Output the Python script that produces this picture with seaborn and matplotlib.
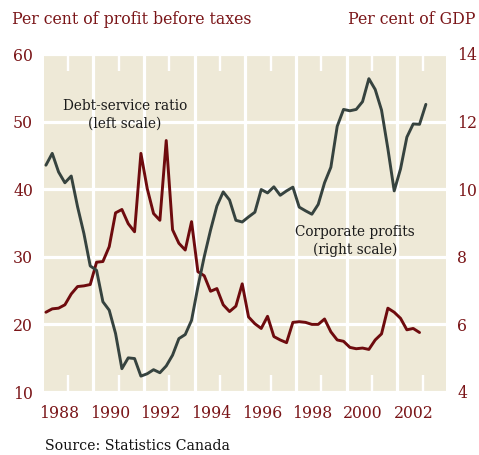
import numpy as np
import pandas as pd
import matplotlib
matplotlib.use("Agg")
import matplotlib.pyplot as plt
import matplotlib.transforms as mtransforms
import seaborn as sns

# Quarterly observations, 1987Q1 onwards
debt_service = [21.8, 22.3, 22.4, 22.9, 24.5, 25.6, 25.7, 25.9, 29.2, 29.3,
                31.5, 36.5, 37.0, 34.9, 33.7, 45.3, 40.1, 36.4, 35.4, 47.2,
                34.0, 32.0, 31.0, 35.2, 27.8, 27.2, 24.9, 25.3, 22.9, 21.9,
                22.7, 26.0, 21.1, 20.1, 19.4, 21.2, 18.2, 17.7, 17.3, 20.3,
                20.4, 20.3, 20.0, 20.0, 20.8, 18.9, 17.7, 17.5, 16.6, 16.4,
                16.5, 16.3, 17.7, 18.6, 22.4, 21.8, 20.9, 19.2, 19.4, 18.8]
corp_profits = [10.71, 11.06, 10.51, 10.19, 10.39, 9.48, 8.69, 7.73, 7.60, 6.67,
                6.42, 5.73, 4.69, 5.01, 4.99, 4.47, 4.54, 4.66, 4.57, 4.77,
                5.09, 5.58, 5.70, 6.12, 7.11, 8.00, 8.79, 9.50, 9.92, 9.68,
                9.08, 9.03, 9.18, 9.32, 9.99, 9.89, 10.07, 9.82, 9.95, 10.06,
                9.47, 9.36, 9.26, 9.55, 10.19, 10.65, 11.86, 12.36, 12.32, 12.36,
                12.59, 13.27, 12.95, 12.34, 11.20, 9.95, 10.60, 11.54, 11.93, 11.92,
                12.51]
year_labels = [1988, 1990, 1992, 1994, 1996, 1998, 2000, 2002]
left_ticks = [10, 20, 30, 40, 50, 60]
right_ticks = [4, 6, 8, 10, 12, 14]


def quarter_positions(n):
    q = pd.period_range("1987Q1", periods=n, freq="Q")
    return q.year + (q.quarter - 0.5) / 4.0


dsr = pd.DataFrame({"t": quarter_positions(len(debt_service)), "v": debt_service})
cp = pd.DataFrame({"t": quarter_positions(len(corp_profits)), "v": corp_profits})

MAROON = "#6E0B0E"
SLATE = "#36433F"
LABEL_RED = "#7A1518"
PANEL = "#EEE9D7"

sns.set_style("white")
plt.rcParams["font.family"] = ["DejaVu Serif"]

fig = plt.figure(figsize=(4.79, 4.55), dpi=100)
ax = fig.add_axes([44 / 479, 1 - 392 / 455, 402 / 479, 338 / 455])
ax.set_facecolor(PANEL)
ax2 = ax.twinx()

sns.lineplot(data=dsr, x="t", y="v", ax=ax, color=MAROON, lw=2.1, zorder=3)
sns.lineplot(data=cp, x="t", y="v", ax=ax2, color=SLATE, lw=2.1, zorder=3)

ax.set_xlim(1987.05, 2002.92)
ax.set_ylim(10, 60)
ax2.set_ylim(4, 14)

for a in (ax, ax2):
    a.set_xlabel("")
    a.set_ylabel("")
    for s in a.spines.values():
        s.set_visible(False)

# white grid: horizontal rules from the left scale, vertical rules at odd years
ax.set_yticks(left_ticks)
ax.set_yticklabels([str(v) for v in left_ticks])
ax.grid(True, axis="y", color="white", lw=2.3)
ax.set_xticks([y + 1 for y in year_labels[:-1]], minor=True)
ax.grid(True, axis="x", which="minor", color="white", lw=2.3)
ax.set_axisbelow(True)

ax.set_xticks(year_labels)
ax.set_xticklabels([str(y) for y in year_labels])
ax.tick_params(axis="x", which="major", direction="in", length=12.5, width=1.7,
               color="white", top=True, bottom=True, labelsize=11.3,
               labelcolor=LABEL_RED, pad=9)
ax.tick_params(axis="x", which="minor", length=0)
ax.tick_params(axis="y", length=0, labelsize=11.3, labelcolor=LABEL_RED, pad=8)
ax2.set_yticks(right_ticks)
ax2.set_yticklabels([str(v) for v in right_ticks])
ax2.tick_params(axis="y", length=0, labelsize=11.3, labelcolor=LABEL_RED, pad=8)

shift = mtransforms.ScaledTranslation(-9 / 100, 0, fig.dpi_scale_trans)
for lbl in ax.xaxis.get_majorticklabels():
    lbl.set_transform(lbl.get_transform() + shift)

fig.text(12 / 479, 1 - 20 / 455, "Per cent of profit before taxes", color=LABEL_RED,
         fontsize=11.3, ha="left", va="center")
fig.text(475 / 479, 1 - 20 / 455, "Per cent of GDP", color=LABEL_RED,
         fontsize=11.3, ha="right", va="center")

ax.text(1990.25, 51.0, "Debt-service ratio\n(left scale)", ha="center", va="center",
        fontsize=9.8, color="#1a1a1a", linespacing=1.4)
ax2.text(1999.33, 8.46, "Corporate profits\n(right scale)", ha="center", va="center",
         fontsize=9.8, color="#1a1a1a", linespacing=1.35)

fig.text(45 / 479, 1 - 446 / 455, "Source: Statistics Canada", fontsize=10.2,
         color="#111111", ha="left", va="center")

fig.savefig("out.png", dpi=100, facecolor="white")
